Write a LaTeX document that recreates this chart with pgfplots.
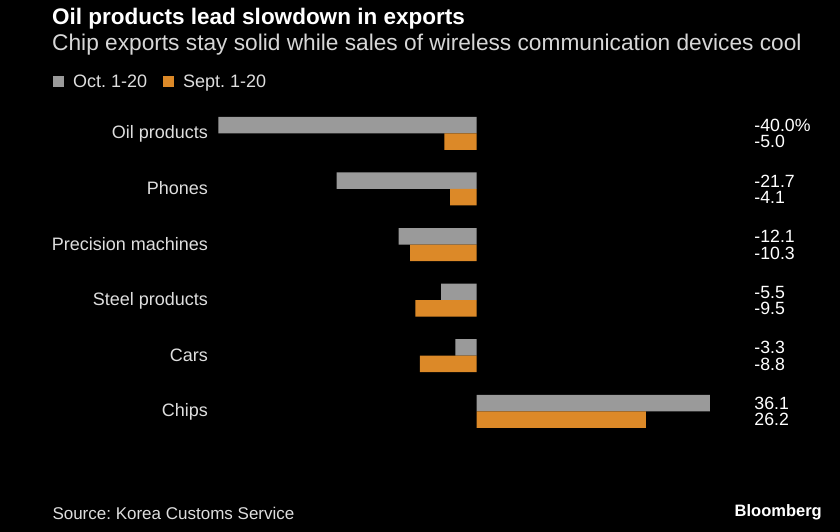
\documentclass[border=0pt]{standalone}
\usepackage{fontspec}
\setmainfont{Liberation Sans}
\usepackage{pgfplots}
\pgfplotsset{compat=1.18}
\frenchspacing
\definecolor{bargray}{RGB}{154,154,154}
\definecolor{barorange}{RGB}{220,137,40}
\definecolor{lbl}{RGB}{222,222,222}
\definecolor{subt}{RGB}{215,215,215}
\begin{document}
\frenchspacing
\begin{tikzpicture}
\fill[black] (0pt,0pt) rectangle (840pt,-532pt);
\node[anchor=base west, inner sep=0pt, text=white, font=\fontsize{22.5}{26}\selectfont\bfseries] at (52pt,-24.3pt) {Oil products lead slowdown in exports};
\node[anchor=base west, inner sep=0pt, text=subt, font=\fontsize{22.7}{26}\selectfont] at (52pt,-51pt) {Chip exports stay solid while sales of wireless communication devices cool};
\fill[bargray] (53pt,-76pt) rectangle (64pt,-87.3pt);
\node[anchor=base west, inner sep=0pt, text=lbl, font=\fontsize{18}{21}\selectfont] at (73pt,-87.3pt) {Oct. 1-20};
\fill[barorange] (163pt,-76pt) rectangle (174pt,-87.3pt);
\node[anchor=base west, inner sep=0pt, text=lbl, font=\fontsize{18}{21}\selectfont] at (183pt,-87.3pt) {Sept. 1-20};
\node[anchor=base west, inner sep=0pt, text=lbl, font=\fontsize{17}{20}\selectfont] at (52.3pt,-519pt) {Source: Korea Customs Service};
\node[anchor=base east, inner sep=0pt, text=white, font=\fontsize{16.5}{20}\selectfont\bfseries] at (822pt,-516.7pt) {Bloomberg};
\begin{axis}[
  at={(215.07pt,-444.66pt)}, anchor=south west,
  scale only axis, width=500.65pt, height=344.72pt,
  xmin=-40.5, xmax=37, ymin=-0.6, ymax=5.6,
  xbar, bar width=16.5pt,
  axis line style={draw=none},
  xtick=\empty,
  ytick={0,1,2,3,4,5},
  yticklabels={Chips,Cars,Steel products,Precision machines,Phones,Oil products},
  major tick length=0pt,
  yticklabel style={anchor=base east, inner sep=0pt, xshift=-7pt, yshift=-5.5pt, text=lbl, font=\fontsize{18}{21}\selectfont},
  clip=false,
]
\addplot[fill=bargray, draw=none, bar shift=8.25pt] coordinates {(-40.0,5) (-21.7,4) (-12.1,3) (-5.5,2) (-3.3,1) (36.1,0)};
\addplot[fill=barorange, draw=none, bar shift=-8.25pt] coordinates {(-5.0,5) (-4.1,4) (-10.3,3) (-9.5,2) (-8.8,1) (26.2,0)};
\tikzset{vg/.style={anchor=base west, inner sep=0pt, text=white, font=\fontsize{17.7}{20}\selectfont, yshift=1.85pt},
         vo/.style={anchor=base west, inner sep=0pt, text=white, font=\fontsize{17.7}{20}\selectfont, yshift=-14.65pt}}
\node[vg] at (axis cs:42.97,5) {-40.0\%};
\node[vo] at (axis cs:42.97,5) {-5.0};
\node[vg] at (axis cs:42.97,4) {-21.7};
\node[vo] at (axis cs:42.97,4) {-4.1};
\node[vg] at (axis cs:42.97,3) {-12.1};
\node[vo] at (axis cs:42.97,3) {-10.3};
\node[vg] at (axis cs:42.97,2) {-5.5};
\node[vo] at (axis cs:42.97,2) {-9.5};
\node[vg] at (axis cs:42.97,1) {-3.3};
\node[vo] at (axis cs:42.97,1) {-8.8};
\node[vg] at (axis cs:42.97,0) {36.1};
\node[vo] at (axis cs:42.97,0) {26.2};
\end{axis}
\end{tikzpicture}
\end{document}
